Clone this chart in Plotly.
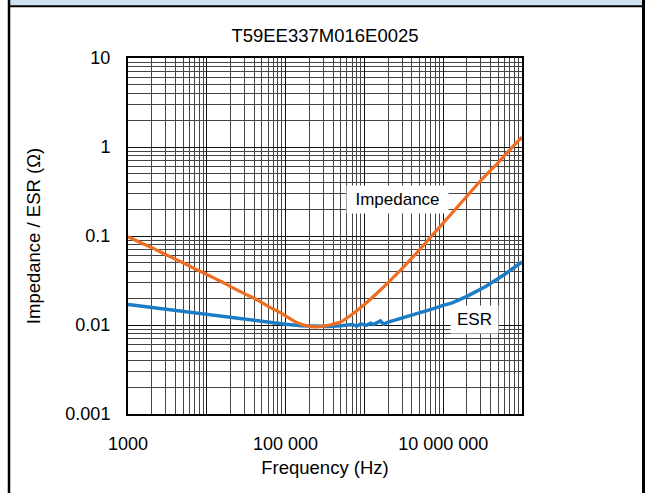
import plotly.graph_objects as go
import numpy as np

# ---- data ----
imp_freq = [1e3, 1.5e3, 2e3, 3e3, 5e3, 7e3, 1e4, 1.5e4, 2e4, 3e4, 4e4, 6e4, 8e4, 1e5, 1.3e5,
            1.7e5, 2.1e5, 2.5e5, 3.0e5, 4e5, 5e5, 7e5, 1e6, 1.5e6, 2e6, 3e6, 5e6, 7e6, 1e7,
            1.5e7, 2e7, 3e7, 5e7, 7e7, 1e8]
imp_val = [0.098, 0.083, 0.074, 0.062, 0.050, 0.043, 0.037, 0.031, 0.027, 0.0225, 0.020, 0.0162,
           0.0142, 0.0127, 0.0110, 0.0100, 0.0096, 0.0095, 0.0097, 0.0102, 0.0108, 0.0132, 0.0170,
           0.0235, 0.030, 0.043, 0.070, 0.098, 0.140, 0.210, 0.280, 0.42, 0.67, 0.93, 1.29]

esr_freq = [1e3, 2e3, 5e3, 1e4, 2e4, 4e4, 6e4, 1e5, 1.6e5, 2.4e5, 3.5e5, 5e5, 6e5, 7e5, 8e5,
            9e5, 1.05e6, 1.2e6, 1.3e6, 1.4e6, 1.6e6, 1.75e6, 2e6, 2.5e6, 3.3e6, 5e6, 7e6, 1e7,
            1.3e7, 2e7, 3.5e7, 6e7, 1e8]
esr_val = [0.0170, 0.0157, 0.0142, 0.0133, 0.0122, 0.0112, 0.0107, 0.0102, 0.0098, 0.0096, 0.0096,
           0.0098, 0.0100, 0.0101, 0.0097, 0.0103, 0.0099, 0.0105, 0.0101, 0.0104, 0.0111, 0.0102,
           0.0108, 0.0114, 0.0122, 0.0136, 0.0150, 0.0166, 0.0177, 0.021, 0.0273, 0.037, 0.051]

x_tick_vals = [1e3, 1e4, 1e5, 1e6, 1e7, 1e8]
x_tick_text = ["1000", "", "100 000", "", "10 000 000", ""]
y_tick_vals = [0.001, 0.01, 0.1, 1, 10]
y_tick_text = ["0.001", "0.01", "0.1", "1", "10"]

title_text = "T59EE337M016E0025"
x_title = "Frequency (Hz)"
y_title = "Impedance / ESR (Ω)"

# ---- layout geometry (body margin removed via post_script) ----
W, H = 645, 493
PL, PR, PT, PB = 128, 522, 58, 414     # plot area in page pixels
L, T = PL, PT
R, B = W - PR, H - PB

def px(x):
    return (x - PL) / (PR - PL)

def py(y):
    return (PB - y) / (PB - PT)

x_minor = [m * 10 ** e for e in range(3, 8) for m in range(2, 10)]
y_minor = [m * 10 ** e for e in range(-3, 1) for m in range(2, 10)]

FONT = "Liberation Sans, Arial, sans-serif"

fig = go.Figure()
fig.add_trace(go.Scatter(x=esr_freq, y=esr_val, mode="lines", name="ESR",
                         line=dict(color="#1C7CC4", width=3.5)))
fig.add_trace(go.Scatter(x=imp_freq, y=imp_val, mode="lines", name="Impedance",
                         line=dict(color="#F06E22", width=3.2, shape="spline", smoothing=0.6)))

axis_common = dict(
    type="log", showline=True, mirror=True, linecolor="black", linewidth=2,
    showgrid=True, gridcolor="#111111", gridwidth=1, zeroline=False,
    ticks="outside", ticklen=12, tickcolor="rgba(0,0,0,0)",
    tickfont=dict(family=FONT, size=18, color="black"),
)

fig.update_xaxes(**axis_common, range=[3, 8], tickmode="array",
                 tickvals=x_tick_vals, ticktext=x_tick_text,
                 minor=dict(tickvals=x_minor, showgrid=True, gridcolor="#444444", gridwidth=1),
                 title=dict(text=x_title, font=dict(family=FONT, size=18.5, color="black"), standoff=8))
fig.update_yaxes(**axis_common, range=[-3, 1], tickmode="array",
                 tickvals=y_tick_vals, ticktext=y_tick_text,
                 minor=dict(tickvals=y_minor, showgrid=True, gridcolor="#444444", gridwidth=1),
                 title=dict(text=y_title, font=dict(family=FONT, size=18.5, color="black"), standoff=20))

fig.add_annotation(x=np.log10(2.6e6), y=np.log10(0.255), text="Impedance", showarrow=False,
                   bgcolor="white", width=99, height=25,
                   font=dict(family=FONT, size=17, color="black"))
fig.add_annotation(x=np.log10(2.5e7), y=np.log10(0.01146), text="ESR", showarrow=False,
                   bgcolor="white", width=45, height=25,
                   font=dict(family=FONT, size=17, color="black"))

# frame decorations (page pixel positions)
fig.add_shape(type="rect", xref="paper", yref="paper", x0=px(10), x1=px(642), y0=py(0), y1=py(5.5),
              fillcolor="#CDE3F2", line=dict(width=0), layer="below")
fig.add_shape(type="line", xref="paper", yref="paper", x0=px(9), x1=px(643), y0=py(6.3), y1=py(6.3),
              line=dict(color="black", width=2))
fig.add_shape(type="line", xref="paper", yref="paper", x0=px(9), x1=px(9), y0=py(0), y1=py(H),
              line=dict(color="black", width=2.5))
fig.add_shape(type="line", xref="paper", yref="paper", x0=px(643.5), x1=px(643.5), y0=py(0), y1=py(H),
              line=dict(color="black", width=3))

fig.update_layout(
    width=W, height=H, margin=dict(l=L, r=R, t=T, b=B, pad=0),
    paper_bgcolor="white", plot_bgcolor="white", showlegend=False,
    title=dict(text=title_text, x=0.5, xref="paper", xanchor="center",
               y=1 - 36 / H, yanchor="middle",
               font=dict(family=FONT, size=18.5, color="black")),
    font=dict(family=FONT, size=17, color="black"),
)

fig.write_html("out.html", config={"displayModeBar": False},
               post_script="document.body.style.margin='0px';")
